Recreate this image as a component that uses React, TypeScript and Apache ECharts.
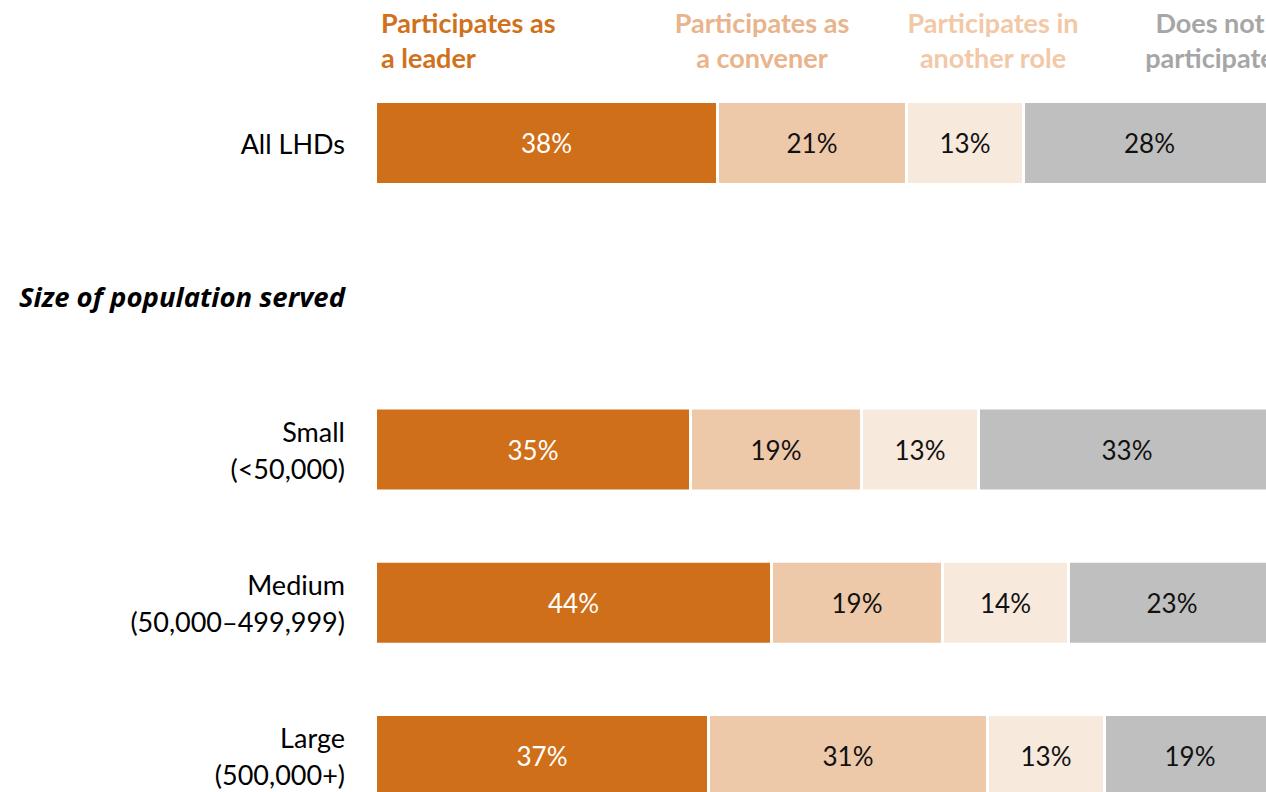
import React, { useEffect, useRef } from "react";
import * as echarts from "echarts";

const categories = ["All LHDs", "Size of population served", "Small\n(<50,000)", "Medium\n(50,000–499,999)", "Large\n(500,000+)"];
const seriesNames = ["Participates as a leader", "Participates as a convener", "Participates in another role", "Does not participate"];
const legendLabels = ["Participates as\na leader", "Participates as\na convener", "Participates in\nanother role", "Does not\nparticipate"];
const leader = [38, null, 35, 44, 37];
const convener = [21, null, 19, 19, 31];
const anotherRole = [13, null, 13, 14, 13];
const notParticipate = [28, null, 33, 23, 19];

const barColors = ["#CF6F1A", "#EDC9AA", "#F8E9DD", "#BFBFBF"];
const legendColors = ["#D0711C", "#E9B48B", "#F2C8A6", "#A6A6A6"];
const labelColors = ["#FFFFFF", "#111111", "#111111", "#111111"];
const FONT = "Lato, 'Noto Sans', sans-serif";

export default function App() {
  const ref = useRef<HTMLDivElement>(null);
  useEffect(() => {
    if (!ref.current) return;
    const chart = echarts.init(ref.current, null, { renderer: "svg" });
    const values = [leader, convener, anotherRole, notParticipate];
    const legendPos = [
      { x: 381, align: "left" },
      { x: 762, align: "center" },
      { x: 993, align: "center" },
      { x: 1210, align: "center" },
    ];
    chart.setOption({
      animation: false,
      backgroundColor: "#FFFFFF",
      grid: { left: 375.5, right: -9.5, top: 66.4, bottom: -40.6, containLabel: false, outerBoundsMode: "none" },
      xAxis: {
        type: "value",
        min: 0,
        max: 100,
        show: false,
      },
      yAxis: {
        type: "category",
        data: categories,
        inverse: true,
        axisLine: { show: false },
        axisTick: { show: false },
        axisLabel: {
          margin: 30.5,
          fontFamily: FONT,
          fontSize: 27,
          color: "#000000",
          lineHeight: 37,
          align: "right",
          formatter: (v: string) => (v === "Size of population served" ? "{h|" + v + "}" : v),
          rich: {
            h: { fontFamily: "'Open Sans', sans-serif", fontSize: 27.5, fontWeight: "bold", fontStyle: "italic", color: "#000000" },
          },
        },
      },
      series: values.map((d, i) => ({
        name: seriesNames[i],
        type: "bar",
        stack: "total",
        barWidth: 83,
        data: d,
        itemStyle: { color: barColors[i], borderColor: "#FFFFFF", borderWidth: 1.5 },
        label: {
          show: true,
          position: "inside",
          formatter: "{c}%",
          color: labelColors[i],
          fontFamily: FONT,
          fontSize: 26,
        },
      })),
      graphic: legendLabels.map((t, i) => ({
        type: "text",
        x: legendPos[i].x,
        y: 39.5,
        style: {
          text: t,
          fill: legendColors[i],
          font: "bold 27px " + FONT,
          lineHeight: 35,
          align: legendPos[i].align,
          verticalAlign: "middle",
        },
      })),
    });
    return () => chart.dispose();
  }, []);
  return <div ref={ref} style={{ position: "absolute", left: 0, top: 0, width: 1266, height: 792 }} />;
}
